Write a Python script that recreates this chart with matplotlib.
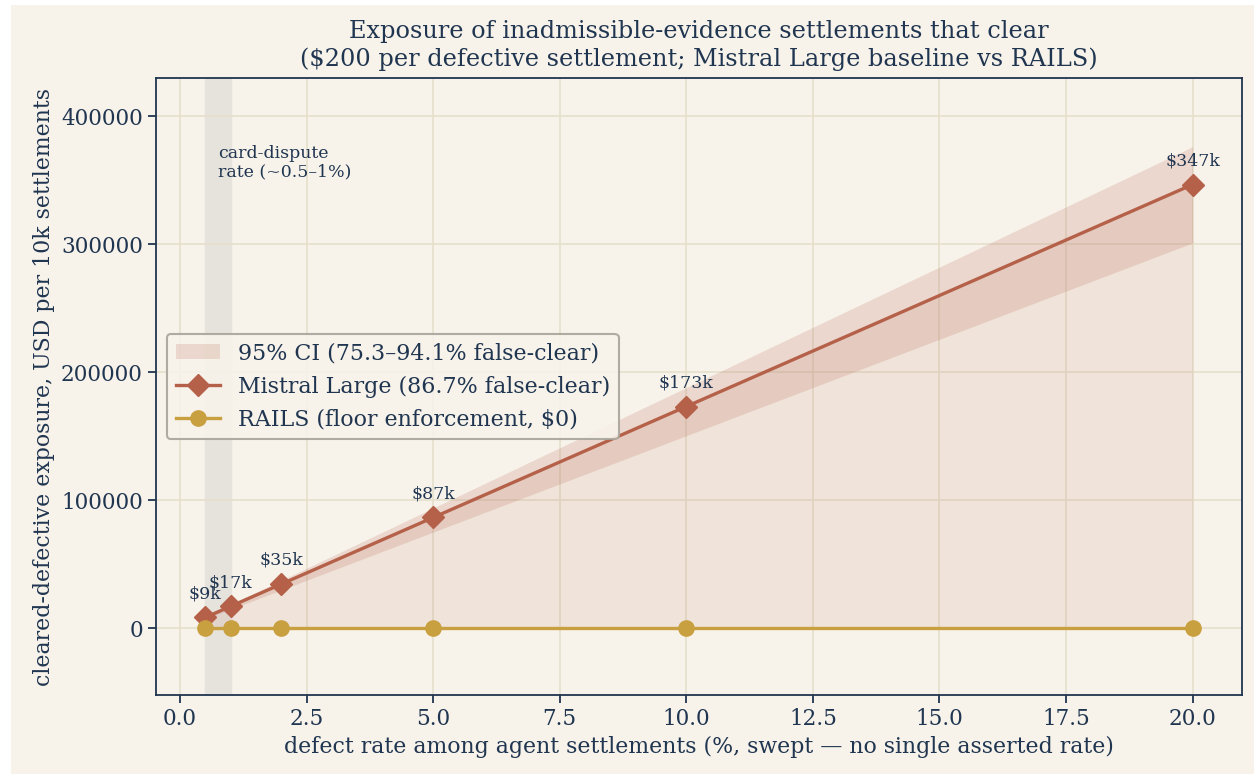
import numpy as np
import matplotlib
matplotlib.use("Agg")
import matplotlib.pyplot as plt
from matplotlib.patches import Rectangle

# data
rates = [0.5, 1, 2, 5, 10, 20]           # defect rate, %
cost_per = 200                           # $ per defective settlement
n_settle = 10000
p_false = 0.867
p_lo, p_hi = 0.753, 0.941

mistral = [r / 100 * n_settle * p_false * cost_per for r in rates]
ci_lo = [r / 100 * n_settle * p_lo * cost_per for r in rates]
ci_hi = [r / 100 * n_settle * p_hi * cost_per for r in rates]
rails = [0, 0, 0, 0, 0, 0]
labels = ["$9k", "$17k", "$35k", "$87k", "$173k", "$347k"]

bg = "#f7f2ea"
ink = "#1f3550"
red = "#b5614a"
gold = "#c9a040"

plt.rcParams["font.family"] = ["DejaVu Serif"]
fig, ax = plt.subplots(figsize=(12.54, 7.74), dpi=100)
fig.patch.set_facecolor("white")
# beige canvas, leaving a thin white strip left and top like the reference
fig.patches.append(Rectangle((11 / 1254, 0), 1, 1 - 5 / 774, transform=fig.transFigure,
                             facecolor=bg, edgecolor="none", zorder=-10))
ax.set_facecolor(bg)

ax.axvspan(0.5, 1.0, color="#e6e2dc", zorder=0.5)
ax.text(0.75, 364000, "card-dispute\nrate (~0.5–1%)", fontsize=12.5, color=ink,
        va="center", ha="left", linespacing=1.1)

ax.fill_between(rates, 0, mistral, color=red, alpha=0.10, lw=0, zorder=1)
ax.fill_between(rates, ci_lo, ci_hi, color=red, alpha=0.18, lw=0, zorder=1.2,
                label="95% CI (75.3–94.1% false-clear)")
ax.plot(rates, mistral, "-D", color=red, lw=2.4, ms=11, zorder=3,
        label="Mistral Large (86.7% false-clear)")
ax.plot(rates, rails, "-o", color=gold, lw=2.4, ms=11, zorder=3,
        label="RAILS (floor enforcement, $0)")

for x, y, s in zip(rates, mistral, labels):
    ax.annotate(s, (x, y), xytext=(0, 11), textcoords="offset points",
                ha="center", va="bottom", fontsize=12.5, color=ink)

ax.set_ylim(-52000, 430000)
ax.grid(True, color="#e6dfcc", lw=1.2, zorder=0)
ax.set_axisbelow(True)
for s in ax.spines.values():
    s.set_color(ink)
    s.set_linewidth(1.3)
ax.tick_params(colors=ink, labelsize=15.5, length=6, width=1.3)

ax.set_xlabel("defect rate among agent settlements (%, swept — no single asserted rate)",
              fontsize=15.8, color=ink)
ax.set_ylabel("cleared-defective exposure, USD per 10k settlements", fontsize=15.8, color=ink)
ax.set_title("Exposure of inadmissible-evidence settlements that clear\n"
             "($200 per defective settlement; Mistral Large baseline vs RAILS)",
             fontsize=17.3, color=ink, pad=9)

leg = ax.legend(loc="center left", bbox_to_anchor=(0.0, 0.50), fontsize=15.9,
                facecolor=bg, edgecolor="#a8a49c", framealpha=0.9, labelcolor=ink)
leg.get_frame().set_linewidth(1.5)

fig.subplots_adjust(left=0.1244, right=0.9904, top=0.8992, bottom=0.102)
fig.savefig("out.png", dpi=100, facecolor="white")
